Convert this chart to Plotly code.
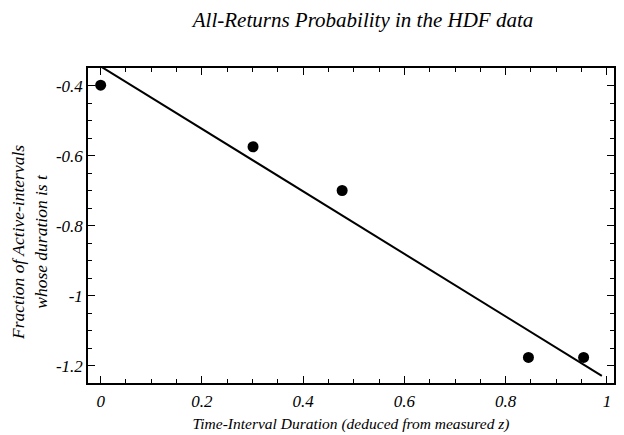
import numpy as np
import plotly.graph_objects as go

# data (x = log duration, y = log fraction)
x_vals = [0.0, 0.301, 0.477, 0.845, 0.954]
y_vals = [-0.398, -0.574, -0.699, -1.176, -1.176]
fit_range = [0.0, 0.99]

x_ticks = [0, 0.2, 0.4, 0.6, 0.8, 1]
x_tick_text = ["0", "0.2", "0.4", "0.6", "0.8", "1"]
y_ticks = [-0.4, -0.6, -0.8, -1.0, -1.2]
y_tick_text = ["-0.4", "-0.6", "-0.8", "-1", "-1.2"]

slope, intercept = np.polyfit(x_vals, y_vals, 1)
fit_x = np.array(fit_range)
fit_y = slope * fit_x + intercept

FONT = "Liberation Serif"

fig = go.Figure()
fig.add_trace(go.Scatter(x=fit_x, y=fit_y, mode="lines",
                         line=dict(color="black", width=2), showlegend=False))
fig.add_trace(go.Scatter(x=x_vals, y=y_vals, mode="markers",
                         marker=dict(color="black", size=11), showlegend=False))

axis_common = dict(
    showgrid=False, zeroline=False, showline=True, linecolor="black", linewidth=1.5,
    mirror="allticks", ticks="inside", ticklen=7, tickwidth=1, tickcolor="black",
    automargin=False,
    tickfont=dict(family=FONT, size=17, color="black", style="italic"),
)

fig.update_xaxes(range=[-0.025, 1.014], tickvals=x_ticks, ticktext=x_tick_text,
                 ticklabelstandoff=2,
                 minor=dict(dtick=0.05, ticks="inside", ticklen=4, tickcolor="black", showgrid=False),
                 title=dict(text="Time-Interval Duration (deduced from measured z)",
                            font=dict(family=FONT, size=15.5, color="black", style="italic"),
                            standoff=8),
                 **axis_common)
fig.update_yaxes(range=[-1.249, -0.349], tickvals=y_ticks, ticktext=y_tick_text,
                 minor=dict(dtick=0.05, tick0=-0.4, ticks="inside", ticklen=4, tickcolor="black", showgrid=False),
                 **axis_common)

fig.add_annotation(text="Fraction of Active-intervals<br>whose duration is t",
                   xref="paper", yref="paper", x=-0.11, y=0.445, xanchor="center", yanchor="middle",
                   textangle=-90, showarrow=False, align="center",
                   font=dict(family=FONT, size=17.5, color="black", style="italic"))

fig.update_layout(
    width=624, height=435,
    margin=dict(l=88, r=10, t=68, b=52),
    paper_bgcolor="white", plot_bgcolor="white",
    title=dict(text="All-Returns Probability in the HDF data", x=363 / 624, xanchor="center",
               xref="container", y=1 - 20 / 435, yanchor="middle",
               font=dict(family=FONT, size=21, color="black", style="italic")),
)

fig.write_html("out.html")
